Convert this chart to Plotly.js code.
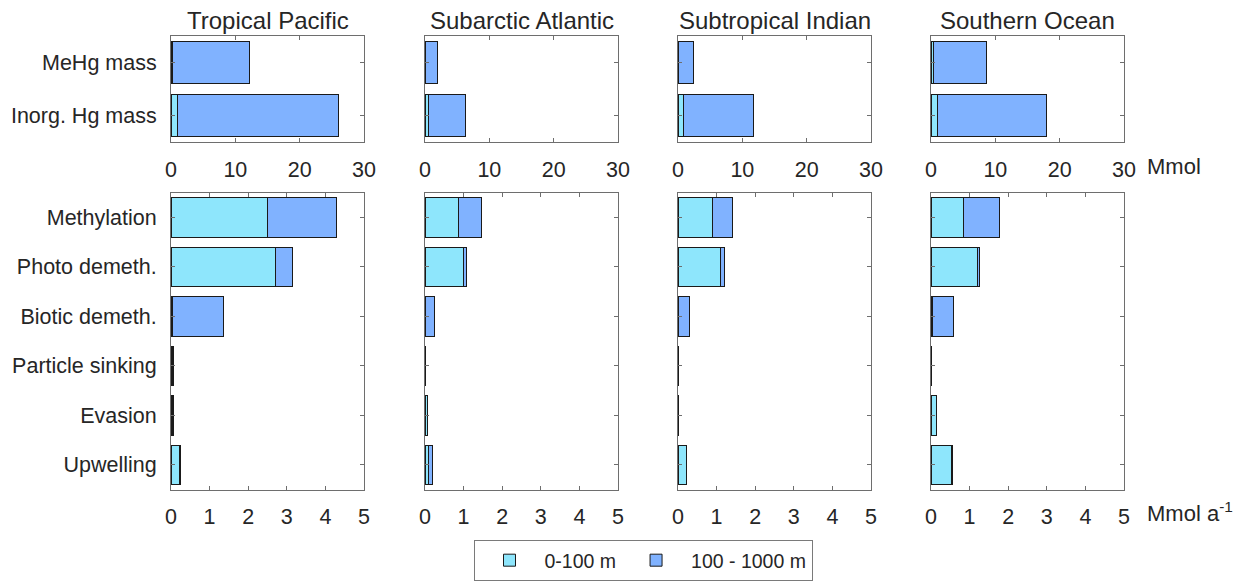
<!DOCTYPE html>
<html>
<head>
<meta charset="utf-8">
<script src="https://cdn.plot.ly/plotly-3.0.1.min.js"></script>
<style>html,body{margin:0;padding:0;background:#fff;}</style>
</head>
<body>
<div id="chart" style="width:1245px;height:581px;"></div>
<script>
// ---- data ----
const regions = ['Tropical Pacific', 'Subarctic Atlantic', 'Subtropical Indian', 'Southern Ocean'];
const massCats = ['MeHg mass', 'Inorg. Hg mass'];
const fluxCats = ['Methylation', 'Photo demeth.', 'Biotic demeth.', 'Particle sinking', 'Evasion', 'Upwelling'];
const seriesNames = ['0-100 m', '100 - 1000 m'];

// Mass (Mmol), per region: [MeHg, Inorg. Hg]
const massShallowTP = [0.3, 1.0];
const massDeepTP    = [11.9, 25.0];
const massShallowSA = [0.02, 0.5];
const massDeepSA    = [1.88, 5.75];
const massShallowSI = [0.02, 0.8];
const massDeepSI    = [2.4, 11.0];
const massShallowSO = [0.35, 1.0];
const massDeepSO    = [8.35, 17.0];

// Fluxes (Mmol a^-1), per region
const fluxShallowTP = [2.51, 2.71, 0.05, 0.05, 0.05, 0.21];
const fluxDeepTP    = [1.79, 0.43, 1.32, 0.01, 0.01, 0.04];
const fluxShallowSA = [0.87, 0.99, 0.01, 0.0, 0.06, 0.10];
const fluxDeepSA    = [0.60, 0.09, 0.24, 0.0, 0.0, 0.10];
const fluxShallowSI = [0.90, 1.10, 0.01, 0.0, 0.01, 0.23];
const fluxDeepSI    = [0.50, 0.11, 0.30, 0.0, 0.01, 0.0];
const fluxShallowSO = [0.84, 1.20, 0.03, 0.01, 0.14, 0.53];
const fluxDeepSO    = [0.93, 0.06, 0.55, 0.01, 0.0, 0.03];

const massShallow = [massShallowTP, massShallowSA, massShallowSI, massShallowSO];
const massDeep    = [massDeepTP, massDeepSA, massDeepSI, massDeepSO];
const fluxShallow = [fluxShallowTP, fluxShallowSA, fluxShallowSI, fluxShallowSO];
const fluxDeep    = [fluxDeepTP, fluxDeepSA, fluxDeepSI, fluxDeepSO];

// ---- style ----
const W = 1245, H = 581;
const colShallow = '#8ee6fc';
const colDeep = '#80b2ff';
const lineCol = '#6e6e6e';
const txtCol = '#262626';
const FONT = 'Liberation Sans, Arial, sans-serif';
const panelX = [[171, 364], [425, 618], [678, 871], [931, 1124]];
const topY = [36, 143], botY = [194, 493];

const px2x = p => p / W;
const py2y = p => (H - p) / H;

const traces = [];
const layout = {
  width: W, height: H,
  margin: {l: 0, r: 0, t: 0, b: 0},
  paper_bgcolor: '#ffffff', plot_bgcolor: '#ffffff',
  barmode: 'stack', bargap: 0.2,
  font: {family: FONT, size: 21, color: txtCol},
  showlegend: true,
  legend: {
    orientation: 'h', x: 643 / W, xanchor: 'center', y: py2y(544), yanchor: 'top',
    bordercolor: '#7a7a7a', borderwidth: 1, bgcolor: '#ffffff',
    itemwidth: 60, entrywidth: 0,
    font: {family: FONT, size: 19.5, color: txtCol}, traceorder: 'normal'
  },
  annotations: []
};

function axisCommon() {
  return {
    showline: true, linecolor: lineCol, linewidth: 1, mirror: 'allticks',
    ticks: 'inside', ticklen: 4, tickcolor: lineCol, showgrid: false, zeroline: false,
    automargin: false, fixedrange: true,
    tickfont: {family: FONT, size: 21.5, color: txtCol}
  };
}

for (let r = 0; r < 4; r++) {
  const iTop = r * 2 + 1, iBot = r * 2 + 2;
  const xd = [px2x(panelX[r][0]), px2x(panelX[r][1])];
  const axes = [
    {i: iTop, cats: massCats, s: massShallow[r], d: massDeep[r], yd: [py2y(topY[1]), py2y(topY[0])], xr: [0, 30], dt: 10},
    {i: iBot, cats: fluxCats, s: fluxShallow[r], d: fluxDeep[r], yd: [py2y(botY[1]), py2y(botY[0])], xr: [0, 5], dt: 1}
  ];
  axes.forEach(a => {
    const xn = a.i === 1 ? 'x' : 'x' + a.i;
    const yn = a.i === 1 ? 'y' : 'y' + a.i;
    const first = (a.i === 1);
    traces.push({
      type: 'bar', orientation: 'h', y: a.cats, x: a.s, name: seriesNames[0],
      xaxis: xn, yaxis: yn, legendgroup: 'a', showlegend: first,
      marker: {color: colShallow, line: {color: '#1a1a1a', width: 1}},
      hoverinfo: 'x+y+name'
    });
    traces.push({
      type: 'bar', orientation: 'h', y: a.cats, x: a.d, name: seriesNames[1],
      xaxis: xn, yaxis: yn, legendgroup: 'b', showlegend: first,
      marker: {color: colDeep, line: {color: '#1a1a1a', width: 1}},
      hoverinfo: 'x+y+name'
    });
    const xa = Object.assign(axisCommon(), {
      domain: xd, anchor: yn, range: a.xr, dtick: a.dt, tick0: 0, ticklabelstandoff: 8
    });
    const ya = Object.assign(axisCommon(), {
      domain: a.yd, anchor: xn, type: 'category',
      categoryorder: 'array', categoryarray: a.cats,
      range: [a.cats.length - 0.5, -0.5],
      showticklabels: r === 0, ticklabelstandoff: 9
    });
    layout[a.i === 1 ? 'xaxis' : 'xaxis' + a.i] = xa;
    layout[a.i === 1 ? 'yaxis' : 'yaxis' + a.i] = ya;
  });
  layout.annotations.push({
    text: regions[r], xref: 'paper', yref: 'paper',
    x: (xd[0] + xd[1]) / 2, y: py2y(21), xanchor: 'center', yanchor: 'middle',
    showarrow: false, font: {family: FONT, size: 24, color: txtCol}
  });
}
layout.annotations.push({
  text: 'Mmol', xref: 'paper', yref: 'paper', x: px2x(1145), y: py2y(168),
  xanchor: 'left', yanchor: 'middle', showarrow: false,
  font: {family: FONT, size: 22, color: txtCol}
});
layout.annotations.push({
  text: 'Mmol a<sup>-1</sup>', xref: 'paper', yref: 'paper', x: px2x(1145), y: py2y(516),
  xanchor: 'left', yanchor: 'middle', showarrow: false,
  font: {family: FONT, size: 22, color: txtCol}
});

Plotly.newPlot('chart', traces, layout, {displayModeBar: false, staticPlot: true});
</script>
</body>
</html>
